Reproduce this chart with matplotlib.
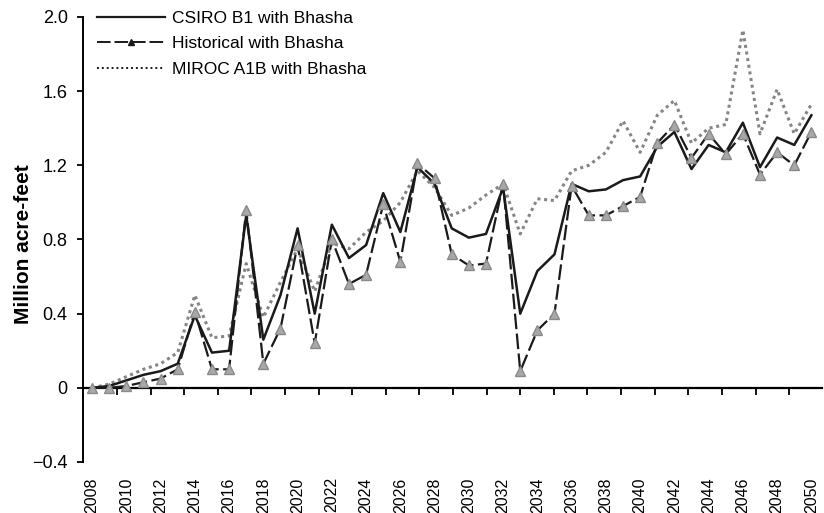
"""
Bhasha dam scenarios: annual storage change, 2008-2050
"""
import matplotlib
matplotlib.use("Agg")
import matplotlib.pyplot as plt
from matplotlib.lines import Line2D
import numpy as np

years = list(range(2008, 2051))

csiro = [0.00, 0.01, 0.04, 0.07, 0.09, 0.13, 0.39, 0.19, 0.20, 0.93,
         0.26, 0.50, 0.86, 0.40, 0.88, 0.70, 0.77, 1.05, 0.84, 1.19,
         1.10, 0.86, 0.81, 0.83, 1.08, 0.40, 0.63, 0.72, 1.10, 1.06,
         1.07, 1.12, 1.14, 1.30, 1.38, 1.18, 1.31, 1.27, 1.43, 1.19,
         1.35, 1.31, 1.47]
historical = [0.00, 0.00, 0.01, 0.03, 0.05, 0.10, 0.41, 0.10, 0.10, 0.96,
              0.13, 0.32, 0.77, 0.24, 0.80, 0.56, 0.61, 0.99, 0.68, 1.21,
              1.13, 0.72, 0.66, 0.67, 1.10, 0.09, 0.31, 0.40, 1.09, 0.93,
              0.93, 0.98, 1.03, 1.32, 1.42, 1.24, 1.37, 1.26, 1.37, 1.15,
              1.27, 1.20, 1.38]
miroc = [0.00, 0.02, 0.06, 0.10, 0.13, 0.19, 0.50, 0.27, 0.28, 0.67,
         0.38, 0.57, 0.75, 0.52, 0.78, 0.75, 0.84, 0.90, 1.00, 1.17,
         1.08, 0.93, 0.97, 1.04, 1.10, 0.83, 1.02, 1.01, 1.17, 1.20,
         1.27, 1.44, 1.27, 1.47, 1.55, 1.32, 1.40, 1.42, 1.93, 1.37,
         1.61, 1.37, 1.53]

series_names = ["CSIRO B1 with Bhasha", "Historical with Bhasha", "MIROC A1B with Bhasha"]
yticks = [-0.4, 0, 0.4, 0.8, 1.2, 1.6, 2.0]
ytick_labels = ["\u22120.4", "0", "0.4", "0.8", "1.2", "1.6", "2.0"]
xlabel_years = list(range(2008, 2051, 2))

SANS = ["Liberation Sans", "DejaVu Sans"]
DARK = "#1a1a1a"
DOT_GREY = "#858585"
HIST_DASH = (0, (7, 2))
MIROC_DOT = (0, (1, 1.2))

fig = plt.figure(figsize=(8.24, 5.13), dpi=100)
ax = fig.add_axes([83 / 824, 1 - 462 / 513, (822 - 83) / 824, (462 - 17) / 513])

ax.plot(years, miroc, color=DOT_GREY, lw=2.2, linestyle=MIROC_DOT, zorder=2)
ax.plot(years, csiro, color=DARK, lw=1.8, zorder=3)
ax.plot(years, historical, color=DARK, lw=1.6, linestyle=HIST_DASH,
        marker="^", markersize=7, markerfacecolor="#a8a8a8",
        markeredgecolor="#8a8a8a", zorder=4)

ax.set_xlim(2007.47, 2050.62)
ax.set_ylim(-0.4, 2.0)

for side in ["top", "right"]:
    ax.spines[side].set_visible(False)
ax.spines["left"].set_linewidth(1.4)
ax.spines["bottom"].set_position(("data", 0))
ax.spines["bottom"].set_linewidth(1.6)

# tick marks on the zero line, spaced as in the original drawing
ax.set_xticks(np.linspace(2009.45, 2048.7, 21))
ax.tick_params(axis="x", direction="out", length=5, width=1.3, labelbottom=False)

ax.set_yticks(yticks)
ax.set_yticklabels(ytick_labels, fontsize=13, family=SANS)
ax.tick_params(axis="y", direction="out", length=4, width=1.3, pad=7)

sec = ax.secondary_xaxis("bottom")
sec.spines["bottom"].set_visible(False)
sec.set_xticks(xlabel_years)
sec.set_xticklabels([str(y) for y in xlabel_years], rotation=90, fontsize=11.5, family=SANS)
sec.tick_params(length=0, pad=11)

ax.set_ylabel("Million acre-feet", fontsize=15, fontweight="bold", family=SANS)
ax.yaxis.set_label_coords(-0.068, 0.49)

# legend keys drawn like the printed key (small black triangle)
legend_handles = [
    Line2D([], [], color=DARK, lw=1.6),
    Line2D([], [], color=DARK, lw=1.4, linestyle=HIST_DASH, marker="^",
           markersize=4.5, markerfacecolor=DARK, markeredgecolor=DARK, markevery=[1]),
    Line2D([], [], color=DARK, lw=1.4, linestyle=(0, (1, 1.5))),
]
leg = ax.legend(legend_handles, series_names,
                loc="upper left", bbox_to_anchor=(0.01, 1.03), frameon=False,
                prop={"family": SANS, "size": 12.5}, handlelength=3.9,
                handletextpad=0.4, labelspacing=0.6, borderaxespad=0)

fig.savefig("out.png", dpi=100)
